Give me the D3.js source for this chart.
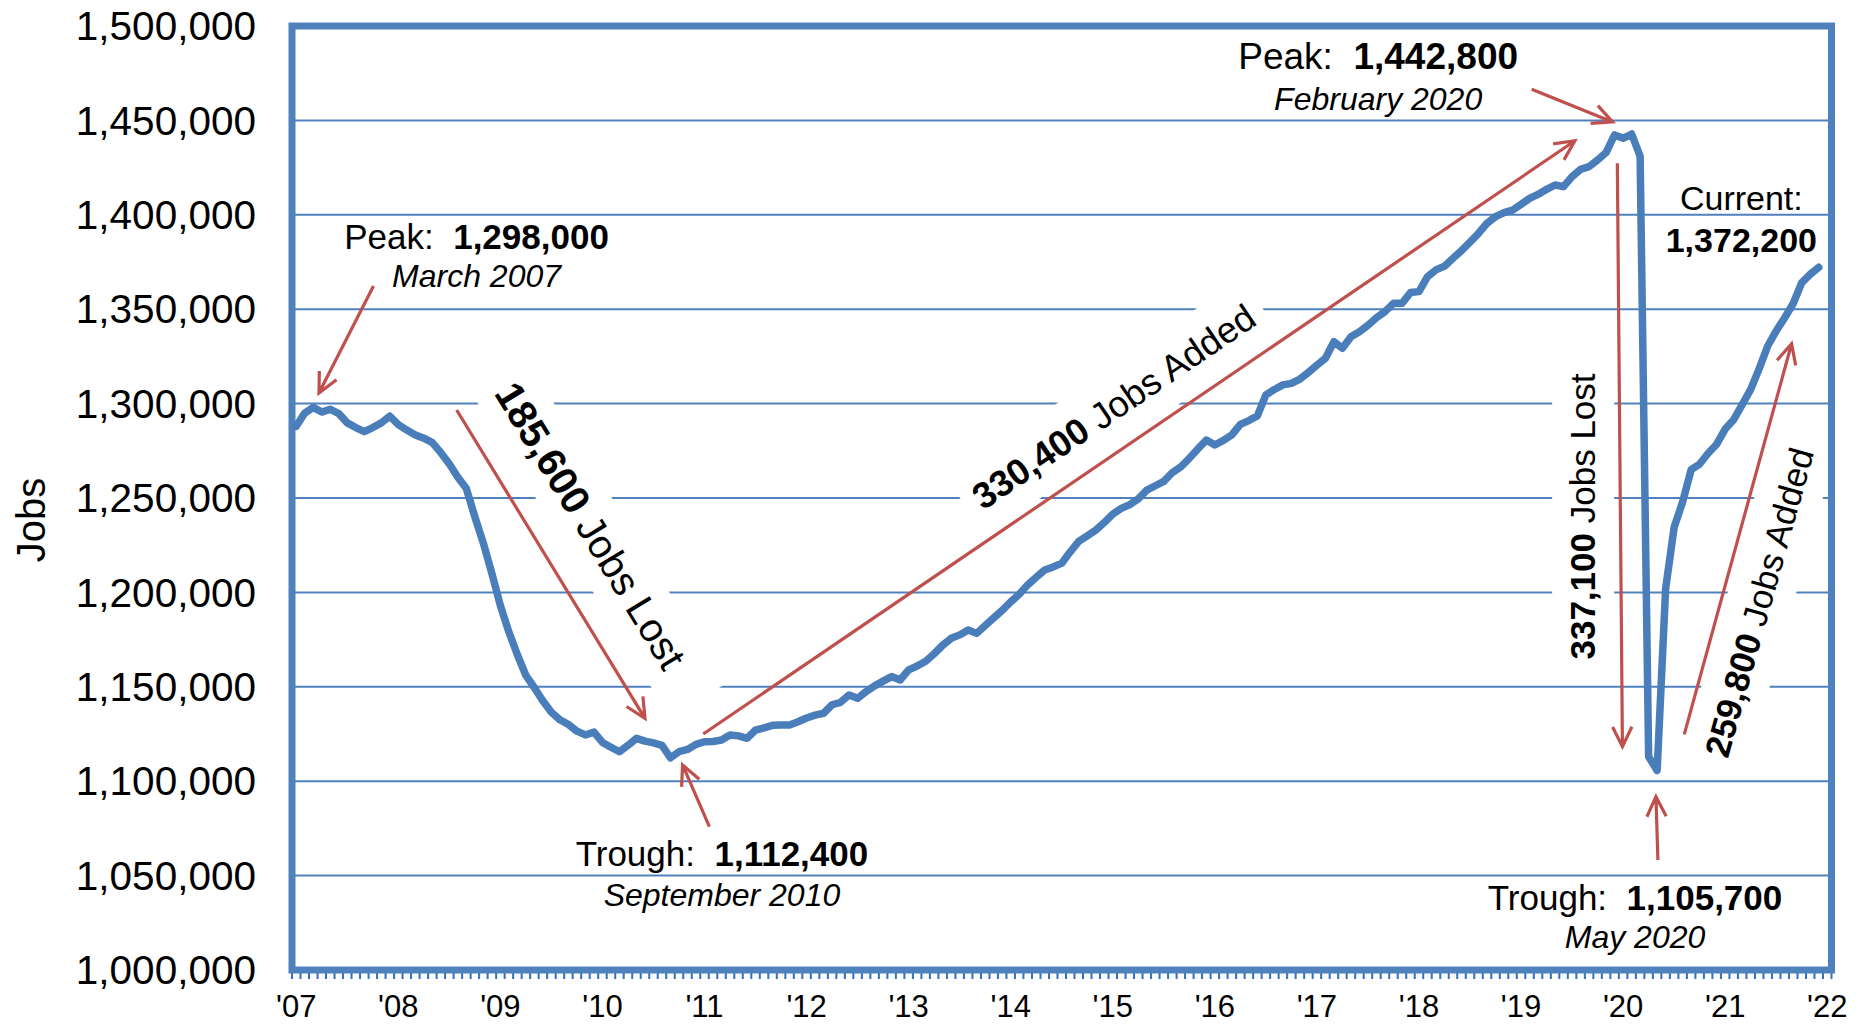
<!DOCTYPE html>
<html>
<head>
<meta charset="utf-8">
<script src="https://cdn.jsdelivr.net/npm/d3@7"></script>
<style>
  body { margin: 0; background: #fff; }
  text { font-family: "Liberation Sans", Arial, sans-serif; fill: #000; }
</style>
</head>
<body>
<div id="chart"></div>
<script>
// monthly jobs, Jan..Dec of each year
var jobs2007 = [1288000, 1295000, 1298000, 1295500, 1297000, 1294700, 1289800, 1287300, 1285200, 1287300, 1289800, 1293400];
var jobs2008 = [1288900, 1286000, 1283400, 1281700, 1279300, 1274000, 1268000, 1261000, 1255000, 1240000, 1226000, 1210000];
var jobs2009 = [1193000, 1179000, 1167000, 1156000, 1149500, 1142500, 1136500, 1132500, 1130000, 1126500, 1124500, 1126000];
var jobs2010 = [1120500, 1118000, 1115600, 1119000, 1122700, 1121200, 1120300, 1119000, 1112400, 1115600, 1116800, 1119500];
var jobs2011 = [1120900, 1121000, 1121800, 1124500, 1124000, 1122700, 1127100, 1128300, 1129600, 1129800, 1129800, 1131500];
var jobs2012 = [1133500, 1135000, 1136000, 1140500, 1141800, 1145700, 1143900, 1147500, 1150500, 1153000, 1155400, 1153600];
var jobs2013 = [1159000, 1161000, 1163500, 1167500, 1172000, 1175700, 1177500, 1180100, 1178300, 1182500, 1186500, 1190500];
var jobs2014 = [1195000, 1199000, 1204000, 1208000, 1211900, 1213500, 1215500, 1221500, 1227000, 1230000, 1233000, 1237000];
var jobs2015 = [1241500, 1244500, 1246500, 1249500, 1254200, 1256500, 1258800, 1263500, 1266500, 1271000, 1276000, 1280700];
var jobs2016 = [1278100, 1280500, 1283400, 1289000, 1291000, 1293500, 1304600, 1307500, 1309900, 1310700, 1313000, 1316500];
var jobs2017 = [1320400, 1324000, 1332800, 1329300, 1335400, 1338100, 1341500, 1345500, 1348700, 1353100, 1353100, 1358800];
var jobs2018 = [1359300, 1367200, 1370800, 1372800, 1377000, 1381000, 1385500, 1390200, 1395500, 1399000, 1401200, 1402500];
var jobs2019 = [1405500, 1408700, 1410800, 1413500, 1415800, 1414900, 1420200, 1424100, 1425500, 1429000, 1433000, 1442300];
var jobs2020 = [1440500, 1442800, 1431000, 1113000, 1105700, 1202000, 1234500, 1248000, 1265000, 1268000, 1273700, 1278500];
var jobs2021 = [1286500, 1291500, 1299500, 1307500, 1318500, 1330500, 1338500, 1345500, 1353000, 1364000, 1368500, 1372200];

var yearLabels = ["'07", "'08", "'09", "'10", "'11", "'12", "'13", "'14", "'15", "'16", "'17", "'18", "'19", "'20", "'21", "'22"];
var yTicks = [1000000, 1050000, 1100000, 1150000, 1200000, 1250000, 1300000, 1350000, 1400000, 1450000, 1500000];

var jobs = [].concat(jobs2007, jobs2008, jobs2009, jobs2010, jobs2011, jobs2012, jobs2013,
    jobs2014, jobs2015, jobs2016, jobs2017, jobs2018, jobs2019, jobs2020, jobs2021);

// annotations, placed in [month index, jobs]
var arrows = [
    [[9.08, 1362300], [2.67, 1305600]],
    [[18.86, 1296600], [41.0, 1133300]],
    [[48.57, 1075900], [45.42, 1108600]],
    [[47.85, 1125000], [150.33, 1439200]],
    [[145.25, 1466500], [154.76, 1449200]],
    [[155.32, 1427300], [155.92, 1118300]],
    [[160.09, 1058300], [159.86, 1091800]],
    [[163.19, 1124800], [175.81, 1331700]]
];

var notes = [
    { at: [21.2, 1381900], size: 35, head: "Peak:", value: "1,298,000", sub: "March 2007", gap: 38 },
    { at: [50.05, 1055100], size: 35, head: "Trough:", value: "1,112,400", sub: "September 2010", gap: 40 },
    { at: [127.2, 1477200], size: 37, head: "Peak:", value: "1,442,800", sub: "February 2020", gap: 41 },
    { at: [157.4, 1031800], size: 35, head: "Trough:", value: "1,105,700", sub: "May 2020", gap: 38 }
];

var slopes = [
    { at: [34.6, 1235400], angle: 58.6, size: 40, value: "185,600", rest: "Jobs Lost", padL: 9, padR: 42, h: 65 },
    { at: [96.1, 1298400], angle: -34.2, size: 36.5, value: "330,400", rest: "Jobs Added", padL: 12, padR: 12, h: 69 },
    { at: [151.3, 1240200], angle: -90, size: 35, value: "337,100", rest: "Jobs Lost", padL: 12, padR: 12, h: 62 },
    { at: [172.0, 1194700], angle: -74.3, size: 35, value: "259,800", rest: "Jobs Added", padL: 12, padR: 12, h: 66 }
];

var width = 1868, height = 1024;
var plot = { left: 292, right: 1831.5, top: 26, bottom: 970 };

var blue = "#4F81BD", lineBlue = "#4A7EBB", red = "#C0504D";

var svg = d3.select("#chart")
    .append("svg")
    .attr("width", width)
    .attr("height", height);

svg.append("rect").attr("width", width).attr("height", height).attr("fill", "#fff");

// ---------------------------//
//       AXIS  AND SCALE      //
// ---------------------------//

var x = d3.scaleLinear().domain([-0.5, 180.5]).range([plot.left, plot.right]);
var y = d3.scaleLinear().domain([1000000, 1500000]).range([plot.bottom, plot.top]);

// gridlines
svg.append("g")
    .selectAll("line")
    .data(yTicks.slice(1, -1))
    .enter()
    .append("line")
    .attr("x1", plot.left)
    .attr("x2", plot.right)
    .attr("y1", function(d) { return y(d); })
    .attr("y2", function(d) { return y(d); })
    .attr("stroke", blue)
    .attr("stroke-width", 2);

// y labels
svg.append("g")
    .selectAll("text")
    .data(yTicks)
    .enter()
    .append("text")
    .attr("x", 256)
    .attr("y", function(d) { return y(d); })
    .attr("dy", "0.35em")
    .attr("text-anchor", "end")
    .style("font-size", "40.5px")
    .text(d3.format(","));

svg.append("text")
    .attr("transform", "translate(31,520) rotate(-90)")
    .attr("dy", "0.35em")
    .attr("text-anchor", "middle")
    .style("font-size", "40px")
    .text("Jobs");

// monthly ticks under the axis
svg.append("g")
    .selectAll("line")
    .data(d3.range(182))
    .enter()
    .append("line")
    .attr("x1", function(d) { return x(d - 0.5); })
    .attr("x2", function(d) { return x(d - 0.5); })
    .attr("y1", plot.bottom)
    .attr("y2", plot.bottom + 9)
    .attr("stroke", "#2F72C4")
    .attr("stroke-width", 2);

// year labels
svg.append("g")
    .selectAll("text")
    .data(yearLabels)
    .enter()
    .append("text")
    .attr("x", function(d, i) { return x(i * 12); })
    .attr("y", 1017)
    .attr("text-anchor", "middle")
    .style("font-size", "31px")
    .text(function(d) { return d; });

// ---------------------------//
//     SLOPE LABEL BOXES      //
// ---------------------------//

var slopeG = svg.append("g")
    .selectAll("g")
    .data(slopes)
    .enter()
    .append("g")
    .attr("transform", function(d) {
        return "translate(" + x(d.at[0]) + "," + y(d.at[1]) + ") rotate(" + d.angle + ")";
    });

var slopeText = slopeG.append("text")
    .attr("text-anchor", "middle")
    .attr("dy", "0.35em")
    .style("font-size", function(d) { return d.size + "px"; });
slopeText.append("tspan").style("font-weight", "bold").text(function(d) { return d.value; });
slopeText.append("tspan").text(function(d) { return "\u00a0" + d.rest; });

slopeG.each(function(d) {
    var len = d3.select(this).select("text").node().getComputedTextLength();
    d3.select(this).insert("rect", "text")
        .attr("x", -len / 2 - d.padL)
        .attr("y", -d.h / 2)
        .attr("width", len + d.padL + d.padR)
        .attr("height", d.h)
        .attr("fill", "#fff");
});

// plot frame
svg.append("rect")
    .attr("x", plot.left)
    .attr("y", plot.top)
    .attr("width", plot.right - plot.left)
    .attr("height", plot.bottom - plot.top)
    .attr("fill", "none")
    .attr("stroke", blue)
    .attr("stroke-width", 7);

// ---------------------------//
//       DATA LINE            //
// ---------------------------//

svg.append("path")
    .datum(jobs)
    .attr("d", d3.line()
        .x(function(d, i) { return x(i); })
        .y(function(d) { return y(d); }))
    .attr("fill", "none")
    .attr("stroke", lineBlue)
    .attr("stroke-width", 7.5)
    .attr("stroke-linejoin", "round")
    .attr("stroke-linecap", "round");

// ---------------------------//
//       ARROWS               //
// ---------------------------//

var arm = 22, spread = 26 * Math.PI / 180;
svg.append("g")
    .selectAll("path")
    .data(arrows)
    .enter()
    .append("path")
    .attr("d", function(d) {
        var x0 = x(d[0][0]), y0 = y(d[0][1]), x1 = x(d[1][0]), y1 = y(d[1][1]);
        var a = Math.atan2(y1 - y0, x1 - x0);
        var ax = x1 - arm * Math.cos(a - spread), ay = y1 - arm * Math.sin(a - spread);
        var bx = x1 - arm * Math.cos(a + spread), by = y1 - arm * Math.sin(a + spread);
        return "M" + x0 + "," + y0 + "L" + x1 + "," + y1 +
            "M" + ax + "," + ay + "L" + x1 + "," + y1 + "L" + bx + "," + by;
    })
    .attr("fill", "none")
    .attr("stroke", red)
    .attr("stroke-width", 3.2);

// ---------------------------//
//       PEAK / TROUGH NOTES  //
// ---------------------------//

var noteG = svg.append("g")
    .selectAll("g")
    .data(notes)
    .enter()
    .append("g");

var head = noteG.append("text")
    .attr("x", function(d) { return x(d.at[0]); })
    .attr("y", function(d) { return y(d.at[1]); })
    .attr("text-anchor", "middle")
    .style("font-size", function(d) { return d.size + "px"; });
head.append("tspan").text(function(d) { return d.head + "\u00a0\u00a0"; });
head.append("tspan").style("font-weight", "bold").text(function(d) { return d.value; });

noteG.append("text")
    .attr("x", function(d) { return x(d.at[0]); })
    .attr("y", function(d) { return y(d.at[1]) + d.gap; })
    .attr("text-anchor", "middle")
    .style("font-size", "32px")
    .style("font-style", "italic")
    .text(function(d) { return d.sub; });

// current value
var current = jobs[jobs.length - 1];
svg.append("text")
    .attr("x", x(169.9))
    .attr("y", y(1402500))
    .attr("text-anchor", "middle")
    .style("font-size", "34px")
    .text("Current:");
svg.append("text")
    .attr("x", x(169.9))
    .attr("y", y(1402500) + 42)
    .attr("text-anchor", "middle")
    .style("font-size", "34px")
    .style("font-weight", "bold")
    .text(d3.format(",")(current));
</script>
</body>
</html>
